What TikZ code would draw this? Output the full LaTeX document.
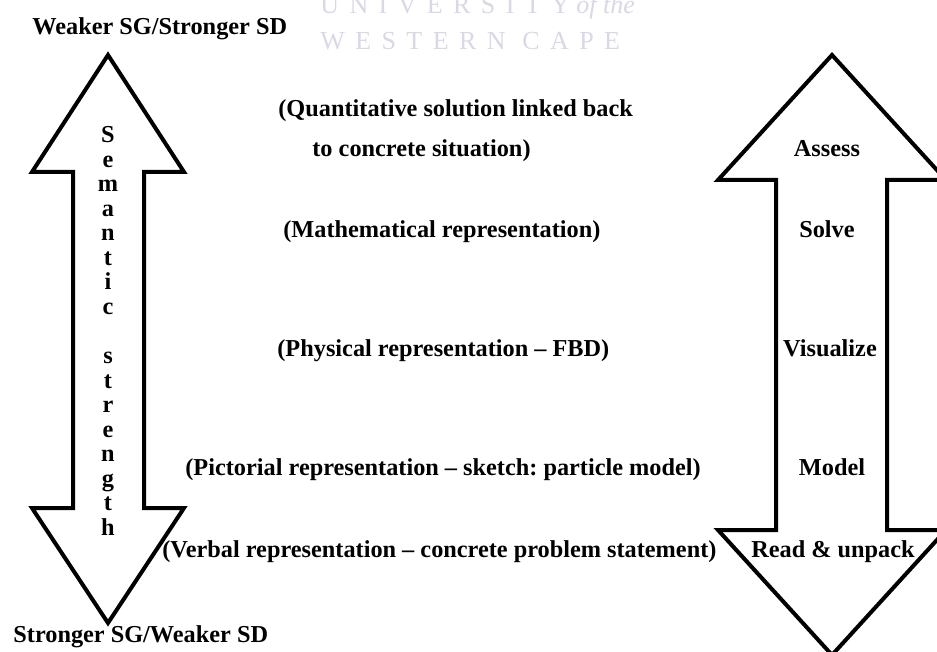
\documentclass[tikz,border=0pt]{standalone}
\usepackage{fontspec}
\setmainfont{Liberation Serif}
\usepackage{xcolor}
\definecolor{watermark}{RGB}{216,216,230}
\frenchspacing

\begin{document}
\begin{tikzpicture}[x=0.5pt,y=-0.5pt,
  txt/.style={font=\fontsize{12.15}{14}\selectfont\bfseries,inner sep=0pt,anchor=base west},
  wmtxt/.style={font=\fontsize{13}{15}\selectfont,text=watermark,inner sep=0pt,anchor=base west},
  bigarrow/.style={draw,line width=2pt,fill=white,line join=miter}]
\useasboundingbox (0,0) rectangle (937,652);

\node[wmtxt] (univ) at (320,14) {{\addfontfeature{LetterSpace=40}UNIVERSITY} \textit{of the}};
\node[wmtxt] (cape) at (320,50) {\addfontfeature{LetterSpace=40}WESTERN CAPE};

\draw[bigarrow] (108,55) -- (32,172) -- (73,172) -- (73,508) -- (32,508) -- (108,623)
  -- (184,508) -- (144,508) -- (144,172) -- (184,172) -- cycle;
\draw[bigarrow] (832,55) -- (718,180) -- (776,180) -- (776,530) -- (718,530) -- (832,655)
  -- (946,530) -- (887,530) -- (887,180) -- (946,180) -- cycle;

\node[txt] (weak) at (32,35) {Weaker SG/Stronger SD};
\node[txt] (strong) at (13,642) {Stronger SG/Weaker SD};

\foreach \ch [count=\i from 0] in {S,e,m,a,n,t,i,c,{},s,t,r,e,n,g,t,h}
  \node[txt,anchor=base] (sem\i) at (108,{143+24.5*\i}) {\ch};

\node[txt] (quant) at (278,117) {(Quantitative solution linked back};
\node[txt] (quantb) at (312,157) {to concrete situation)};
\node[txt] (math) at (283,238) {(Mathematical representation)};
\node[txt] (phys) at (277,357) {(Physical representation -- FBD)};
\node[txt] (pict) at (185,475) {(Pictorial representation -- sketch: particle model)};
\node[txt] (verb) at (162,557) {(Verbal representation -- concrete problem statement)};

\node[txt,anchor=base] (assess) at (827,157) {Assess};
\node[txt,anchor=base] (solve) at (827,238) {Solve};
\node[txt,anchor=base] (visual) at (830,357) {Visualize};
\node[txt,anchor=base] (model) at (832,475) {Model};
\node[txt,anchor=base] (read) at (833,557) {Read \& unpack};
\end{tikzpicture}
\end{document}
